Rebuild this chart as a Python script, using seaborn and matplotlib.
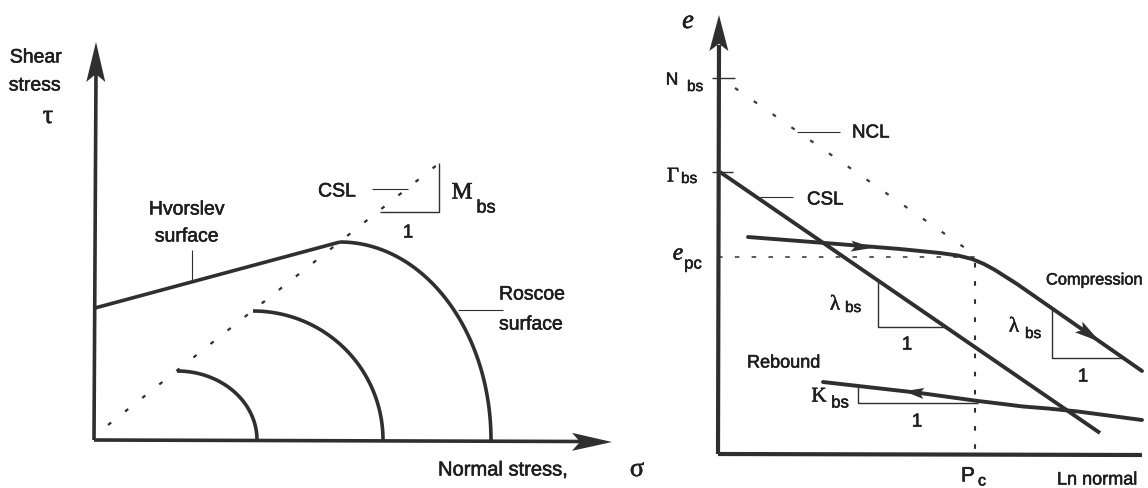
import numpy as np
import pandas as pd
import matplotlib
matplotlib.use("Agg")
import matplotlib.pyplot as plt
import matplotlib.patheffects as pe
import seaborn as sns

sns.set_theme(style="white")
plt.rcParams["font.family"] = ["Liberation Sans", "DejaVu Sans"]

INK = "#2f2f2f"
TXT = "#1e1e1e"
SERIF = ["Liberation Serif", "DejaVu Serif"]

# ---------------- left panel: shear stress vs normal stress ----------------
tau_axis_top = 398
sigma_axis_end = 517

# Hvorslev surface (straight line from the tau axis up to the CSL)
hvorslev_sigma = [0, 245]
hvorslev_tau = [132, 198]

# critical state line in sigma-tau space
csl_sigma = [13, 352]
csl_tau = [15, 283]

# Roscoe yield surfaces: peak on the CSL, closing on the sigma axis
surf_peak_sigma = [82, 158, 245]
surf_peak_tau = [69, 129, 198]
surf_end_sigma = [162, 288, 396]

# slope triangle of the CSL (M_bs : 1)
m_tri_sigma = [285, 344, 344]
m_tri_tau = [228, 228, 277]

# ---------------- right panel: void ratio vs ln(normal stress) -------------
e_axis_top = 439
lnp_axis_end = 424
N_bs = 376
Gamma_bs = 282
e_pc = 197
p_c = 257

ncl_lnp = [17, 260]
ncl_e = [366, 197]

cslr_lnp = [2, 382]
cslr_e = [282, 21]

comp_lnp = [30, 107, 182, 222, 240, 254, 266, 277, 288, 299, 424]
comp_e = [217, 211, 205, 201, 198.5, 195, 190, 184, 177, 170, 83]

reb_lnp = [105, 202, 260, 285, 305, 330, 360, 424]
reb_e = [72, 61, 53, 50, 47.5, 45.5, 42.5, 34]

lam1_lnp = [160, 160, 228]
lam1_e = [172, 127, 127]
lam2_lnp = [334, 334, 404]
lam2_e = [146, 96, 96]
kap_lnp = [140, 140, 260]
kap_e = [67, 51, 51]


def draw(ax, x, y, lw, color=INK, dashes=None, cap="butt"):
    df = pd.DataFrame({"x": x, "y": y})
    sns.lineplot(data=df, x="x", y="y", ax=ax, sort=False, estimator=None,
                 color=color, linewidth=lw)
    ln = ax.lines[-1]
    ln.set_solid_capstyle(cap)
    ln.set_solid_joinstyle("round")
    if dashes is not None:
        ln.set_dashes(dashes)
        ln.set_dash_capstyle("butt")
    return ln


def head(ax, tip, direction, length, width, color=INK):
    d = np.asarray(direction, float)
    d = d / np.hypot(*d)
    n = np.array([-d[1], d[0]])
    tip = np.asarray(tip, float)
    base = tip - d * length
    notch = tip - d * length * 0.8
    pts = np.array([tip, base + n * width / 2, notch, base - n * width / 2])
    ax.fill(pts[:, 0], pts[:, 1], color=color, lw=0, zorder=5)


HEAVY = [pe.withStroke(linewidth=0.4, foreground=TXT)]


def label(ax, x, y, s, size, ha="center", family=None, style="normal", color=TXT):
    kw = {}
    if family is not None:
        kw["family"] = family
    ax.text(x, y, s, fontsize=size, ha=ha, va="center", color=color,
            fontstyle=style, path_effects=HEAVY, **kw)


fig = plt.figure(figsize=(11.48, 4.88), dpi=100)
fig.patch.set_facecolor("white")

axL = fig.add_axes([0, 0, 1, 1])
axL.set_xlim(-95, 1053)
axL.set_ylim(-48, 440)
axR = fig.add_axes([0, 0, 1, 1])
axR.set_xlim(-718, 430)
axR.set_ylim(-34, 454)
for ax in (axL, axR):
    ax.set_axis_off()
    ax.patch.set_alpha(0)

# ---- left panel ----
draw(axL, [-1, 1], [0, tau_axis_top - 30], 2.6)
head(axL, (1, tau_axis_top), (0.005, 1), 40, 19)
draw(axL, [-1, sigma_axis_end - 30], [0, -1.5], 2.6)
head(axL, (sigma_axis_end, -2), (1, -0.004), 40, 18)

draw(axL, hvorslev_sigma, hvorslev_tau, 2.6)
draw(axL, csl_sigma, csl_tau, 1.6, dashes=(1.8, 8.0))

for ps, pt, es in zip(surf_peak_sigma, surf_peak_tau, surf_end_sigma):
    t = np.linspace(0, np.pi / 2, 80)
    a = es - ps
    draw(axL, ps + a * np.sin(t), pt * np.cos(t), 2.6)

draw(axL, m_tri_sigma, m_tri_tau, 1.0)
draw(axL, [277, 313], [251, 251], 0.8)      # CSL leader
draw(axL, [97, 97], [158, 190], 0.8)        # Hvorslev leader
draw(axL, [363, 408], [130, 130], 0.8)      # Roscoe leader

label(axL, -59, 382, "Shear", 14)
label(axL, -60, 354, "stress", 14)
label(axL, -47, 323, "τ", 19, family=SERIF)
label(axL, 92, 230, "Hvorslev", 14)
label(axL, 92, 203, "surface", 14)
label(axL, 242, 248, "CSL", 14)
label(axL, 367, 247, "M", 17, family=SERIF)
label(axL, 391, 232, "bs", 13)
label(axL, 313, 207, "1", 13.5)
label(axL, 404, 145, "Roscoe", 14, ha="left")
label(axL, 404, 115, "surface", 14, ha="left")
label(axL, 343, -30, "Normal stress,", 14.5, ha="left")
label(axL, 542, -30, "σ", 19, family=SERIF)

# ---- right panel ----
draw(axR, [0, 1], [0, e_axis_top - 30], 3.0)
head(axR, (1, e_axis_top), (0.003, 1), 36, 19)
draw(axR, [0, lnp_axis_end], [0, -1], 3.0)

draw(axR, [-6, 17], [N_bs, N_bs], 1.0)
draw(axR, [-6, 15], [Gamma_bs, Gamma_bs], 1.0)

draw(axR, ncl_lnp, ncl_e, 1.6, color="#3c3c3c", dashes=(1.8, 8.5))
draw(axR, cslr_lnp, cslr_e, 2.8)
draw(axR, [0, p_c], [e_pc, e_pc], 1.1, dashes=(3.0, 8.0))
draw(axR, [p_c, p_c], [e_pc - 6, 0], 1.5, dashes=(2.2, 6.5))

draw(axR, comp_lnp, comp_e, 2.8, cap="round")
draw(axR, reb_lnp, reb_e, 2.8, cap="round")

head(axR, (155, 206.2), (comp_lnp[2] - comp_lnp[1], comp_e[2] - comp_e[1]), 22, 11)
head(axR, (382, 112.2), (comp_lnp[-1] - comp_lnp[-2], comp_e[-1] - comp_e[-2]), 26, 13)
head(axR, (186, 62.8), (reb_lnp[0] - reb_lnp[1], reb_e[0] - reb_e[1]), 20, 11)

draw(axR, lam1_lnp, lam1_e, 1.0)
draw(axR, lam2_lnp, lam2_e, 1.0)
draw(axR, kap_lnp, kap_e, 1.0)

draw(axR, [79, 122], [322, 322], 0.8)       # NCL leader
draw(axR, [42, 75], [257, 257], 0.8)        # CSL leader

label(axR, -30, 432, "e", 19, family=SERIF, style="italic")
label(axR, -46, 374, "N", 12.5)
label(axR, -23, 367, "bs", 11)
label(axR, -45, 277, "Γ", 15, family=SERIF)
label(axR, -29, 275, "bs", 11)
label(axR, -40, 200, "e", 17, family=SERIF, style="italic")
label(axR, -25, 190, "pc", 12)
label(axR, 134, 321, "NCL", 13.5, ha="left")
label(axR, 89, 254, "CSL", 13.5, ha="left")
label(axR, 117, 149, "λ", 15, family=SERIF)
label(axR, 135, 146, "bs", 11)
label(axR, 189, 109, "1", 13.5)
label(axR, 296, 127, "λ", 15, family=SERIF)
label(axR, 315, 120, "bs", 11)
label(axR, 365, 77, "1", 13.5)
label(axR, 328, 174, "Compression", 11.8, ha="left")
label(axR, 29, 91, "Rebound", 13, ha="left")
label(axR, 101, 57, "K", 15, family=SERIF)
label(axR, 122, 51, "bs", 12)
label(axR, 199, 32, "1", 13.5)
label(axR, 250, -22, "P", 15)
label(axR, 264, -27, "c", 11.5)
label(axR, 339, -26, "Ln normal", 13, ha="left")

fig.savefig("out.png", dpi=100, facecolor="white")
